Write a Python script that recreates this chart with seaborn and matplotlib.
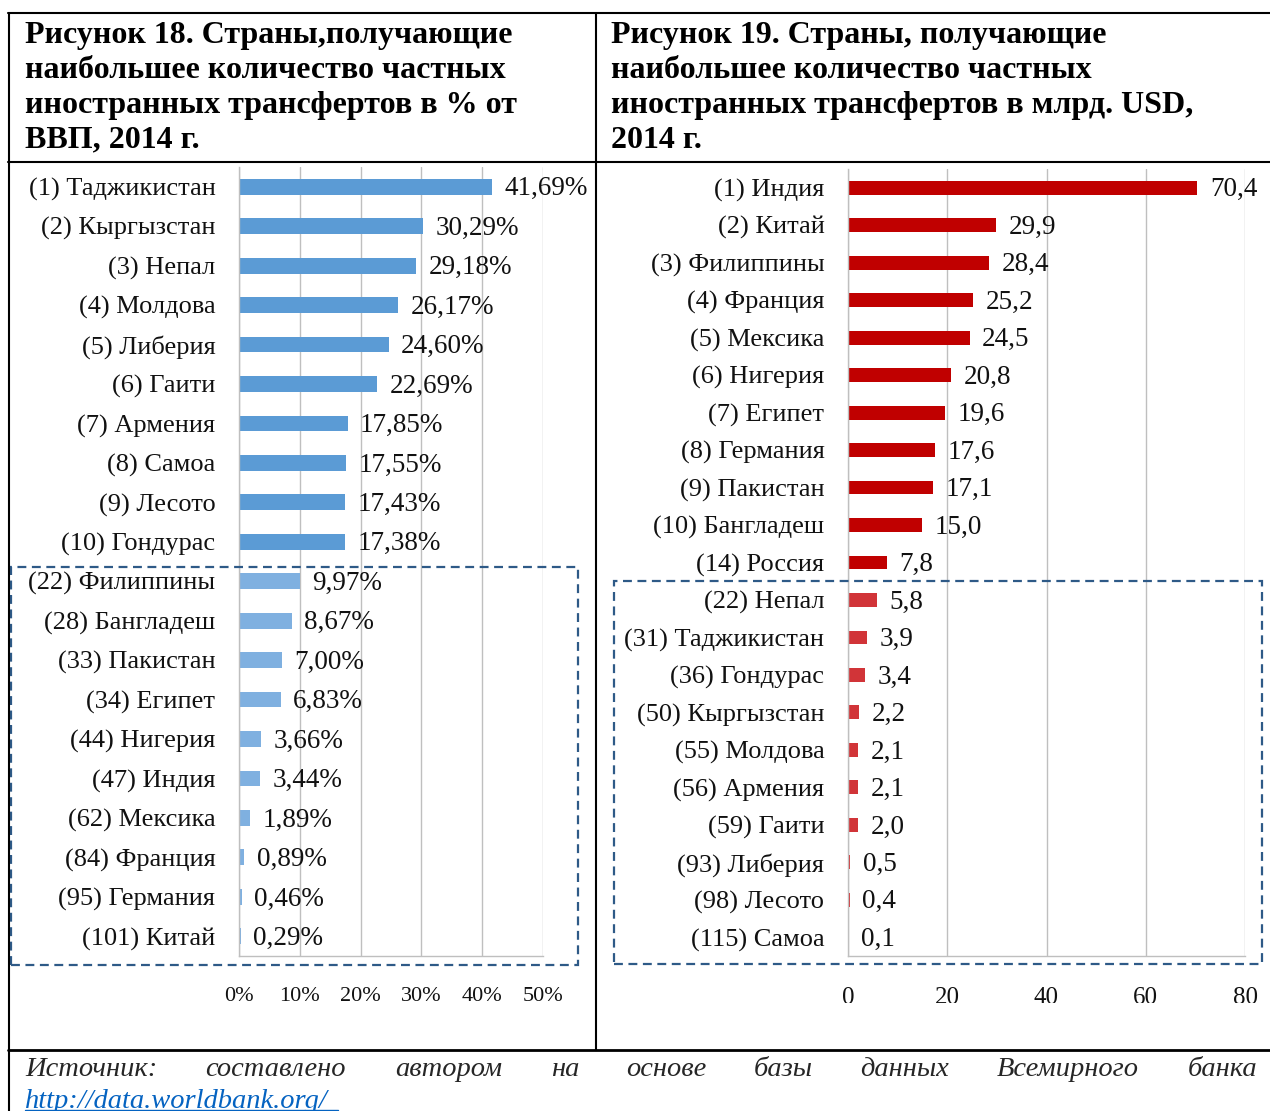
import numpy as np
import pandas as pd
import matplotlib
matplotlib.use("Agg")
import matplotlib.pyplot as plt
import seaborn as sns
from matplotlib.lines import Line2D
from matplotlib.patches import Rectangle
from matplotlib.transforms import Bbox, TransformedBbox

# ---------------- data ----------------
left_labels = ["(1) Таджикистан", "(2) Кыргызстан", "(3) Непал", "(4) Молдова", "(5) Либерия",
               "(6) Гаити", "(7) Армения", "(8) Самоа", "(9) Лесото", "(10) Гондурас",
               "(22) Филиппины", "(28) Бангладеш", "(33) Пакистан", "(34) Египет", "(44) Нигерия",
               "(47) Индия", "(62) Мексика", "(84) Франция", "(95) Германия", "(101) Китай"]
left_values = [41.69, 30.29, 29.18, 26.17, 24.60, 22.69, 17.85, 17.55, 17.43, 17.38,
               9.97, 8.67, 7.00, 6.83, 3.66, 3.44, 1.89, 0.89, 0.46, 0.29]
left_ticks = [0, 10, 20, 30, 40, 50]
left_ticklabels = ["0%", "10%", "20%", "30%", "40%", "50%"]

right_labels = ["(1) Индия", "(2) Китай", "(3) Филиппины", "(4) Франция", "(5) Мексика",
                "(6) Нигерия", "(7) Египет", "(8) Германия", "(9) Пакистан", "(10) Бангладеш",
                "(14) Россия", "(22) Непал", "(31) Таджикистан", "(36) Гондурас", "(50) Кыргызстан",
                "(55) Молдова", "(56) Армения", "(59) Гаити", "(93) Либерия", "(98) Лесото",
                "(115) Самоа"]
right_values = [70.4, 29.9, 28.4, 25.2, 24.5, 20.8, 19.6, 17.6, 17.1, 15.0, 7.8,
                5.8, 3.9, 3.4, 2.2, 2.1, 2.1, 2.0, 0.5, 0.4, 0.1]
right_ticks = [0, 20, 40, 60, 80]
right_ticklabels = ["0", "20", "40", "60", "80"]

title_left = "Рисунок 18. Страны,получающие\nнаибольшее количество частных\nиностранных трансфертов в % от\nВВП, 2014 г."
title_right = "Рисунок 19. Страны, получающие\nнаибольшее количество частных\nиностранных трансфертов в млрд. USD,\n2014 г."
source_words = ["Источник:", "составлено", "автором", "на", "основе", "базы", "данных", "Всемирного", "банка"]
source_link = "http://data.worldbank.org/"

# ---------------- style ----------------
sns.set_style("white")
plt.rcParams["font.family"] = ["Liberation Serif", "DejaVu Serif"]

W, H = 1270, 1111
fig = plt.figure(figsize=(W / 100, H / 100), dpi=100)

def fx(px):
    return px / W

def fy(py):
    return 1 - py / H

GRID = "#BFBFBF"
BOX = "#2E5A87"
clip_bb = TransformedBbox(Bbox.from_extents(0, fy(1003), 1, 1), fig.transFigure)

def panel(ax_rect, labels, values, n_top, c_top, c_low, xmax, ticks, ticklabels, fmt, width,
          tick_fs, xpad):
    ax = fig.add_axes(ax_rect)
    df = pd.DataFrame({"label": labels, "value": values})
    pal = {l: (c_top if i < n_top else c_low) for i, l in enumerate(labels)}
    sns.barplot(data=df, x="value", y="label", hue="label", palette=pal, dodge=False,
                legend=False, width=width, orient="h", ax=ax, linewidth=0, saturation=1)
    ax.set_xlim(0, xmax)
    ax.set_ylim(len(labels) - 0.5, -0.5)
    ax.set_xticks(ticks)
    ax.set_xticklabels(ticklabels, fontsize=tick_fs, color="#111111")
    ax.set_xlabel("")
    ax.set_ylabel("")
    ax.tick_params(axis="y", which="major", length=0, pad=17, labelsize=19, labelcolor="#111111")
    ax.set_yticks(np.arange(-0.5, len(labels), 1), minor=True)
    ax.tick_params(axis="y", which="minor", length=5, color=GRID, width=1)
    ax.tick_params(axis="x", which="major", length=4, color=GRID, width=1, pad=xpad)
    ax.grid(axis="x", color=GRID, linewidth=1)
    ax.grid(axis="y", visible=False)
    ax.set_axisbelow(True)
    for s in ["top", "right"]:
        ax.spines[s].set_visible(False)
    for s in ["left", "bottom"]:
        ax.spines[s].set_color(GRID)
        ax.spines[s].set_linewidth(1)
    for t in ax.xaxis.get_major_ticks():
        t.label1.set_clip_box(clip_bb)
        t.label1.set_clip_on(True)
    for i, v in enumerate(values):
        ax.annotate(fmt(v), xy=(v, i), xytext=(9, -1.5), textcoords="offset points",
                    va="center", ha="left", fontsize=19.5, color="#111111")
    return ax

panel([fx(239), fy(956), fx(543) - fx(239), fy(167) - fy(956)],
      left_labels, left_values, 10, "#5B9BD5", "#7FB0E0", 50, left_ticks, left_ticklabels,
      lambda v: f"{v:.2f}".replace(".", ",") + "%", 0.4, 16, 18.5)
panel([fx(848), fy(956), fx(1245) - fx(848), fy(169) - fy(956)],
      right_labels, right_values, 11, "#C00000", "#D13438", 80, right_ticks, right_ticklabels,
      lambda v: f"{v:.1f}".replace(".", ","), 0.37, 18, 18)

# ---------------- table lines ----------------
def hline(y, x0, x1, lw=1.5):
    fig.add_artist(Line2D([fx(x0), fx(x1)], [fy(y), fy(y)], color="black", lw=lw,
                          transform=fig.transFigure))

def vline(x, y0, y1, lw=1.5):
    fig.add_artist(Line2D([fx(x), fx(x)], [fy(y0), fy(y1)], color="black", lw=lw,
                          transform=fig.transFigure))

hline(13, 8, 1270)
hline(162, 8, 1270)
hline(1050, 8, 1270, lw=2)
vline(9, 13, 1111)
vline(596, 13, 1050)

# dashed boxes
for (x0, y0, x1, y1) in [(11, 567, 578, 965), (614, 581, 1262, 964)]:
    fig.add_artist(Rectangle((fx(x0), fy(y1)), fx(x1) - fx(x0), fy(y0) - fy(y1),
                             fill=False, edgecolor=BOX, lw=1.6, linestyle=(0, (4, 2.5)),
                             transform=fig.transFigure))

# titles
for x, t in [(25, title_left), (611, title_right)]:
    fig.text(fx(x), fy(21), t, ha="left", va="top", fontsize=23, fontweight="bold",
             linespacing=1.27, color="black")

# source
word_x = [25, 205, 395, 551, 626, 754, 860, 997, 1188]
for x, w in zip(word_x, source_words):
    fig.text(fx(x), fy(1070), w, ha="left", va="center", fontsize=20.5, style="italic")
fig.text(fx(25), fy(1101), source_link, ha="left", va="center", fontsize=20.5, style="italic",
         color="#0563C1")
fig.add_artist(Line2D([fx(25), fx(338)], [fy(1110), fy(1110)], color="#0563C1", lw=1,
                      transform=fig.transFigure))

fig.savefig("out.png", dpi=100)
